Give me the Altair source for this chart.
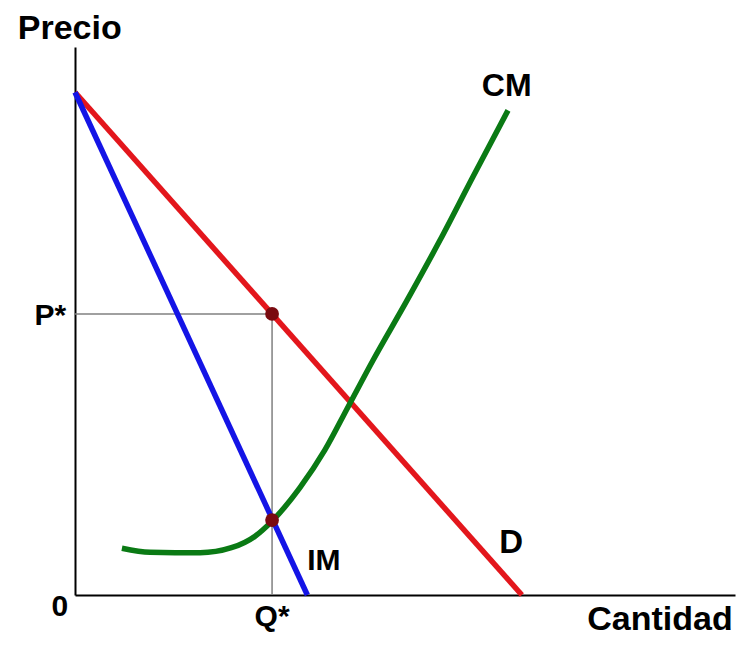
import altair as alt
import pandas as pd

# Demand curve (D)
d_q = [0, 10]
d_p = [10, 0]
# Marginal revenue (IM)
im_q = [0, 5.2]
im_p = [10, 0]
# Marginal cost (CM)
cm_q = [1.05, 1.68, 2.80, 3.50, 4.03, 4.41, 5.03, 5.59, 6.11, 6.67, 7.43, 8.17, 8.90, 9.69]
cm_p = [0.93, 0.85, 0.84, 0.94, 1.17, 1.47, 2.13, 2.88, 3.74, 4.67, 5.86, 7.06, 8.31, 9.64]
# Equilibrium
q_star = 4.41
p_star = 5.59
mc_star = 1.49

x_max = 14.77
y_max = 10.9

FONT = "Liberation Sans"

# Labels: text, q, p, alignment, font size
lab_text = ["CM", "D", "IM", "Q*", "0", "P*", "Cantidad", "Precio"]
lab_q = [9.66, 9.76, 5.57, q_star, -0.34, -0.2, 14.72, -1.28]
lab_p = [9.93, 0.84, 0.50, -0.62, -0.42, 5.37, -0.70, 11.05]
lab_align = ["center", "center", "center", "center", "center", "right", "right", "left"]
lab_size = [32, 33, 30, 30, 30, 30, 34, 34]

ax = alt.Axis(domain=True, domainColor="black", domainWidth=2, ticks=False,
              labels=False, grid=False, title=None)
X = alt.X("q:Q", scale=alt.Scale(domain=[0, x_max], nice=False, zero=False), axis=ax)
Y = alt.Y("p:Q", scale=alt.Scale(domain=[0, y_max], nice=False, zero=False), axis=ax)

guides = alt.Chart(pd.DataFrame({
    "q": [0, q_star], "p": [p_star, p_star], "q2": [q_star, q_star], "p2": [p_star, 0]
})).mark_rule(color="#808080", strokeWidth=1.5).encode(
    x=X, y=Y, x2="q2:Q", y2="p2:Q")

demand = alt.Chart(pd.DataFrame({"q": d_q, "p": d_p})).mark_line(
    color="#e3161c", strokeWidth=5.5).encode(x=X, y=Y)
mr = alt.Chart(pd.DataFrame({"q": im_q, "p": im_p})).mark_line(
    color="#1414e6", strokeWidth=5.5).encode(x=X, y=Y)
mc = alt.Chart(pd.DataFrame({"q": cm_q, "p": cm_p})).mark_line(
    color="#0a7a14", strokeWidth=5.5, interpolate="monotone").encode(x=X, y=Y)

pts = alt.Chart(pd.DataFrame({"q": [q_star, q_star], "p": [p_star, mc_star]})).mark_circle(
    color="#7a0a10", size=190, opacity=1).encode(x=X, y=Y)

labels_df = pd.DataFrame({"q": lab_q, "p": lab_p, "t": lab_text,
                          "a": lab_align, "s": lab_size})
text_layers = []
for align in ["left", "center", "right"]:
    sub = labels_df[labels_df["a"] == align]
    for size in sorted(sub["s"].unique()):
        part = sub[sub["s"] == size]
        text_layers.append(alt.Chart(part).mark_text(
            font=FONT, fontWeight="bold", fontSize=int(size), color="black",
            align=align, baseline="alphabetic").encode(x=X, y=Y, text="t:N"))

chart = alt.layer(guides, demand, mr, mc, pts, *text_layers).properties(
    width=660, height=548,
    autosize=alt.AutoSizeParams(type="none"),
    padding={"left": 67, "top": 39, "right": 6, "bottom": 43},
    background="white",
).configure_view(stroke=None)

chart.save("out.html", embed_options={"renderer": "svg", "actions": False})
